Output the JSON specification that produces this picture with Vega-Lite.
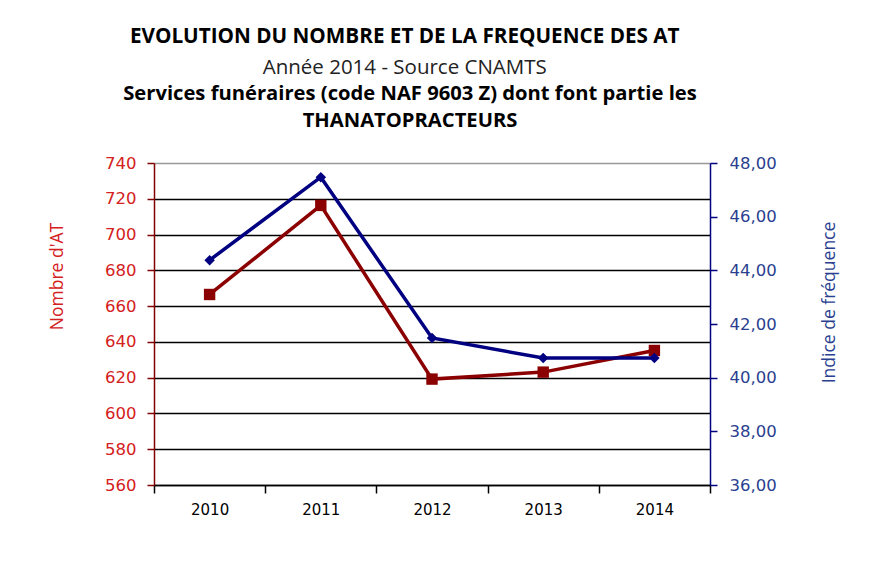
{
  "$schema": "https://vega.github.io/schema/vega-lite/v6.json",
  "background": "white",
  "padding": {"left": 48, "top": 25, "right": 5, "bottom": 5},
  "title": {
    "text": "EVOLUTION DU NOMBRE ET DE LA FREQUENCE DES AT",
    "subtitle": "Année 2014 - Source CNAMTS",
    "font": "Open Sans",
    "fontSize": 20.7,
    "fontWeight": "bold",
    "color": "black",
    "subtitleFont": "Open Sans",
    "subtitleFontSize": 20.5,
    "subtitleFontWeight": "normal",
    "subtitleColor": "#222222",
    "subtitlePadding": 11,
    "anchor": "middle",
    "dx": -38,
    "offset": 4
  },
  "config": {
    "view": {"stroke": null},
    "concat": {"spacing": 7}
  },
  "datasets": {
    "at": [
      {"annee": "2010", "nombre": 666.5, "indice": 44.38},
      {"annee": "2011", "nombre": 716.3, "indice": 47.47},
      {"annee": "2012", "nombre": 619.2, "indice": 41.48},
      {"annee": "2013", "nombre": 623.1, "indice": 40.73},
      {"annee": "2014", "nombre": 635.2, "indice": 40.73}
    ]
  },
  "vconcat": [
    {
      "title": {
        "text": ["Services funéraires (code NAF 9603 Z) dont font partie les", "THANATOPRACTEURS"],
        "font": "Open Sans",
        "fontSize": 20.2,
        "fontWeight": "bold",
        "color": "black",
        "lineHeight": 27,
        "anchor": "middle",
        "dx": -22,
        "offset": 24
      },
      "width": 556,
      "height": 322,
      "data": {"name": "at"},
      "encoding": {
        "x": {
          "field": "annee",
          "type": "ordinal",
          "bandPosition": 0.5,
          "scale": {"type": "band", "paddingInner": 0, "paddingOuter": 0},
          "axis": {
            "title": null,
            "labelAngle": 0,
            "labelFont": "DejaVu Sans",
            "labelFontSize": 15,
            "labelColor": "black",
            "labelPadding": 9,
            "tickBand": "extent",
            "tickSize": 8,
            "tickColor": "black",
            "tickWidth": 1.5,
            "domainColor": "black",
            "domainWidth": 1.5
          }
        }
      },
      "layer": [
        {
          "encoding": {
            "y": {
              "field": "nombre",
              "type": "quantitative",
              "scale": {"domain": [560, 740], "nice": false, "zero": false},
              "axis": {
                "title": "Nombre d'AT",
                "titleFont": "Open Sans",
                "titleFontSize": 17.5,
                "titleFontWeight": "normal",
                "titleColor": "#D42020",
                "titleX": -97,
                "titleY": 113,
                "titleAngle": 270,
                "titleAlign": "center",
                "titleBaseline": "middle",
                "values": [560, 580, 600, 620, 640, 660, 680, 700, 720, 740],
                "labelFont": "DejaVu Sans",
                "labelFontSize": 16.5,
                "labelColor": "#D42020",
                "labelPadding": 11,
                "tickSize": 7,
                "tickColor": "#800000",
                "tickWidth": 1.5,
                "domainColor": "#800000",
                "domainWidth": 1.5,
                "grid": true,
                "gridColor": {"condition": {"test": "datum.value == 740", "value": "#999999"}, "value": "black"},
                "gridWidth": 1.3
              }
            }
          },
          "layer": [
            {"mark": {"type": "line", "color": "#8B0000", "strokeWidth": 3.5}},
            {"mark": {"type": "point", "shape": "square", "filled": true, "color": "#8B0000", "size": 130, "opacity": 1}}
          ]
        },
        {
          "encoding": {
            "y": {
              "field": "indice",
              "type": "quantitative",
              "scale": {"domain": [36, 48], "nice": false, "zero": false},
              "axis": {
                "orient": "right",
                "title": "Indice de fréquence",
                "titleFont": "Open Sans",
                "titleFontSize": 17.5,
                "titleFontWeight": "normal",
                "titleColor": "#2A3F8F",
                "titleX": 119,
                "titleY": 139,
                "titleAngle": 270,
                "titleAlign": "center",
                "titleBaseline": "middle",
                "values": [36, 38, 40, 42, 44, 46, 48],
                "labelExpr": "replace(format(datum.value, '.2f'), '.', ',')",
                "labelFont": "DejaVu Sans",
                "labelFontSize": 16.5,
                "labelColor": "#2A3F8F",
                "labelPadding": 12,
                "tickSize": 7,
                "tickColor": "#000080",
                "tickWidth": 1.5,
                "domainColor": "#000080",
                "domainWidth": 1.5,
                "grid": false
              }
            }
          },
          "layer": [
            {"mark": {"type": "line", "color": "#000080", "strokeWidth": 3.5}},
            {"mark": {"type": "point", "shape": "diamond", "filled": true, "color": "#000080", "size": 110, "opacity": 1}}
          ]
        }
      ],
      "resolve": {"scale": {"y": "independent"}}
    }
  ]
}
